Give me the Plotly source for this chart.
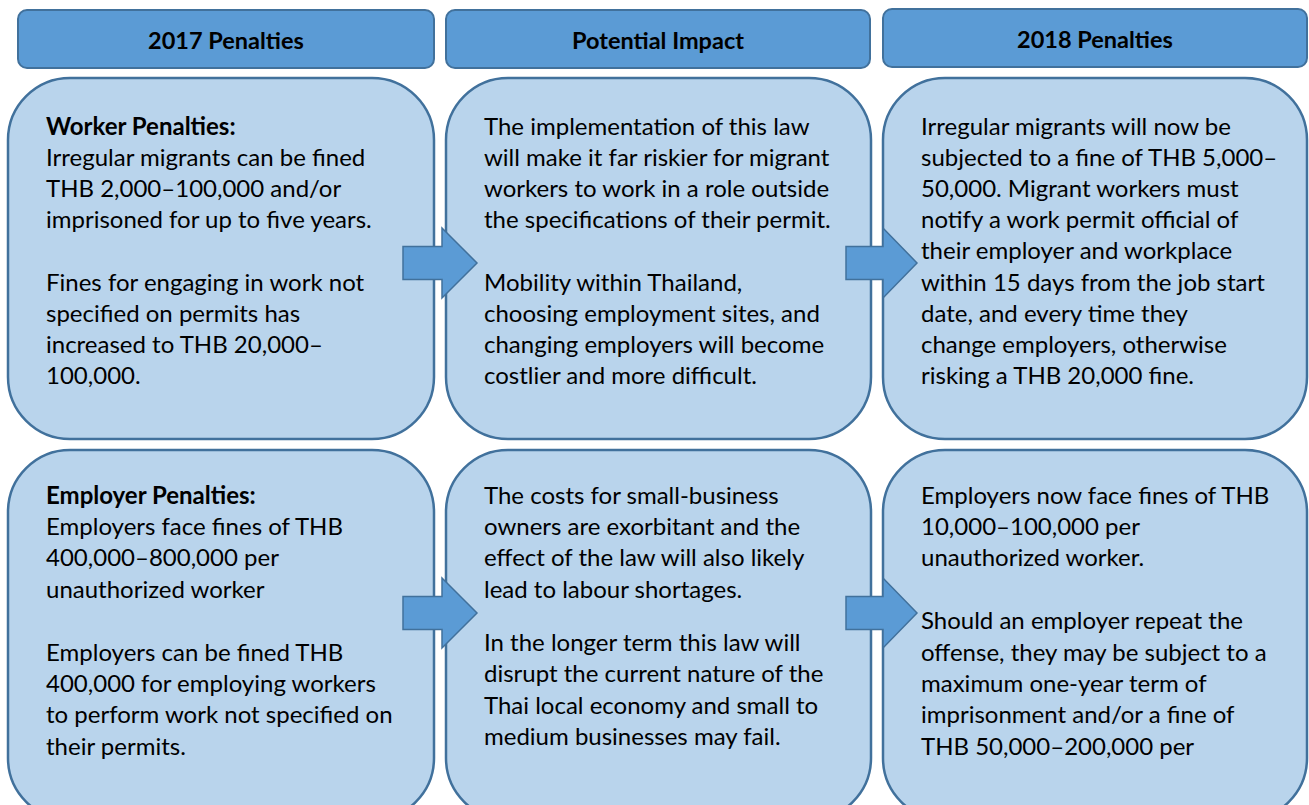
import plotly.graph_objects as go

W, H = 1309, 805

headers = ["2017 Penalties", "Potential Impact", "2018 Penalties"]

# each box: list of lines; "" = paragraph gap; leading "**" = bold
box_r1c1 = ["**Worker Penalties:", "Irregular migrants can be fined", "THB 2,000–100,000 and/or",
            "imprisoned for up to five years.", "", "Fines for engaging in work not",
            "specified on permits has", "increased to THB 20,000–", "100,000."]
box_r1c2 = ["The implementation of this law", "will make it far riskier for migrant",
            "workers to work in a role outside", "the specifications of their permit.", "",
            "Mobility within Thailand,", "choosing employment sites, and",
            "changing employers will become", "costlier and more difficult."]
box_r1c3 = ["Irregular migrants will now be", "subjected to a fine of THB 5,000–",
            "50,000. Migrant workers must", "notify a work permit official of",
            "their employer and workplace", "within 15 days from the job start",
            "date, and every time they", "change employers, otherwise", "risking a THB 20,000 fine."]
box_r2c1 = ["**Employer Penalties:", "Employers face fines of THB", "400,000–800,000 per",
            "unauthorized worker", "", "Employers can be fined THB",
            "400,000 for employing workers", "to perform work not specified on", "their permits."]
box_r2c2 = ["The costs for small-business", "owners are exorbitant and the",
            "effect of the law will also likely", "lead to labour shortages.", "~",
            "In the longer term this law will", "disrupt the current nature of the",
            "Thai local economy and small to", "medium businesses may fail."]
box_r2c3 = ["Employers now face fines of THB", "10,000–100,000 per", "unauthorized worker.", "",
            "Should an employer repeat the", "offense, they may be subject to a",
            "maximum one-year term of", "imprisonment and/or a fine of", "THB 50,000–200,000 per"]

HDR_FILL = "#5B9BD5"
BORDER = "#41719C"
BOX_FILL = "#B9D4EC"
FONT = "Lato"

cols = [(8, 434), (446, 871), (883, 1307)]
hdr_cols = [(18, 434), (446, 870), (883, 1307)]
rows = [(78, 439), (450, 820)]


def rrect(x0, y0, x1, y1, r):
    k = 0.5523 * r
    return (f"M {x0+r},{y0} L {x1-r},{y0} C {x1-r+k},{y0} {x1},{y0+r-k} {x1},{y0+r} "
            f"L {x1},{y1-r} C {x1},{y1-r+k} {x1-r+k},{y1} {x1-r},{y1} "
            f"L {x0+r},{y1} C {x0+r-k},{y1} {x0},{y1-r+k} {x0},{y1-r} "
            f"L {x0},{y0+r} C {x0},{y0+r-k} {x0+r-k},{y0} {x0+r},{y0} Z")


shapes = []
annotations = []

# headers
for (x0, x1), t in zip(hdr_cols, headers):
    y0, y1 = (9, 67) if t.startswith("2018") else (10, 68)
    shapes.append(dict(type="path", path=rrect(x0, y0, x1, y1, 9), fillcolor=HDR_FILL,
                       line=dict(color=BORDER, width=2), layer="below"))
    annotations.append(dict(x=(x0 + x1) / 2, y=(y0 + y1) / 2 + 1, text=f"<b>{t}</b>", showarrow=False,
                            xanchor="center", yanchor="middle",
                            font=dict(family=FONT, size=23.5, color="black")))

# content boxes
for (y0, y1) in rows:
    for (x0, x1) in cols:
        shapes.append(dict(type="path", path=rrect(x0, y0, x1, y1, 62), fillcolor=BOX_FILL,
                           line=dict(color=BORDER, width=2.5), layer="below"))

# arrows
def arrow(xs, ytip, shaft_half=16.5, head_half=35, xb=None, xt=None):
    return (f"M {xs},{ytip-shaft_half} L {xb},{ytip-shaft_half} L {xb},{ytip-head_half} "
            f"L {xt},{ytip} L {xb},{ytip+head_half} L {xb},{ytip+shaft_half} L {xs},{ytip+shaft_half} Z")

for ytip in (263, 613):
    for xs, xb, xt in ((403, 442, 477), (846, 883, 917)):
        shapes.append(dict(type="path", path=arrow(xs, ytip, xb=xb, xt=xt), fillcolor=HDR_FILL,
                           line=dict(color=BORDER, width=1.5), layer="above"))

boxes = [(box_r1c1, 0, 0), (box_r1c2, 0, 1), (box_r1c3, 0, 2),
         (box_r2c1, 1, 0), (box_r2c2, 1, 1), (box_r2c3, 1, 2)]
text_x = [44, 482, 919]
text_y0 = [125, 494]
for lines, r, c in boxes:
    y = text_y0[r]
    step = 31.2 if r == 0 else 31.4
    for ln in lines:
        if ln == "":
            y += step
            continue
        if ln == "~":
            y += step * 0.7
            continue
        txt = f"<b>{ln[2:]}</b>" if ln.startswith("**") else ln
        annotations.append(dict(x=text_x[c], y=y, text=txt, showarrow=False,
                                xanchor="left", yanchor="middle",
                                font=dict(family=FONT, size=24, color="black")))
        y += step

fig = go.Figure()
fig.update_layout(
    width=W, height=H, margin=dict(l=0, r=0, t=0, b=0),
    paper_bgcolor="white", plot_bgcolor="white",
    xaxis=dict(range=[0, W], visible=False, fixedrange=True),
    yaxis=dict(range=[H, 0], visible=False, fixedrange=True),
    shapes=shapes, annotations=annotations, showlegend=False,
)
fig.write_html("out.html", config={"displayModeBar": False},
               post_script="document.body.style.margin='0';document.body.style.overflow='hidden';")
